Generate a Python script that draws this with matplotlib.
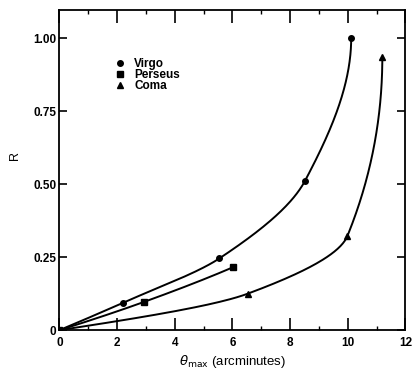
import matplotlib
matplotlib.use("Agg")
import matplotlib.pyplot as plt
from matplotlib.ticker import MultipleLocator
import numpy as np

plt.rcParams['font.family'] = ['Liberation Sans', 'DejaVu Sans']

# values
virgo_x = [0.0, 2.21, 5.55, 8.52, 10.12]
virgo_r = [0.0, 0.094, 0.246, 0.512, 1.0]
perseus_x = [0.0, 2.94, 6.03]
perseus_r = [0.0, 0.097, 0.216]
coma_x = [0.0, 6.53, 9.99, 11.2]
coma_r = [0.0, 0.125, 0.323, 0.936]

x_ticks = [0, 2, 4, 6, 8, 10, 12]
y_ticks = [0, 0.25, 0.5, 0.75, 1.0]
y_labels = ['0', '0.25', '0.50', '0.75', '1.00']


def pchip(x, y, xx):
    """Monotone piecewise cubic (Fritsch-Carlson, as scipy's PCHIP)."""
    x = np.asarray(x, float)
    y = np.asarray(y, float)
    h = np.diff(x)
    delta = np.diff(y) / h
    n = len(x)
    d = np.zeros(n)
    for k in range(1, n - 1):
        if delta[k - 1] * delta[k] > 0:
            w1 = 2 * h[k] + h[k - 1]
            w2 = h[k] + 2 * h[k - 1]
            d[k] = (w1 + w2) / (w1 / delta[k - 1] + w2 / delta[k])

    def end(h0, h1, m0, m1):
        e = ((2 * h0 + h1) * m0 - h0 * m1) / (h0 + h1)
        if np.sign(e) != np.sign(m0):
            e = 0.0
        elif np.sign(m0) != np.sign(m1) and abs(e) > 3 * abs(m0):
            e = 3 * m0
        return e

    d[0] = end(h[0], h[1], delta[0], delta[1])
    d[-1] = end(h[-1], h[-2], delta[-1], delta[-2])
    k = np.clip(np.searchsorted(x, xx) - 1, 0, n - 2)
    s = (xx - x[k]) / h[k]
    return (y[k] * (2 * s**3 - 3 * s**2 + 1) + d[k] * h[k] * (s**3 - 2 * s**2 + s)
            + y[k + 1] * (-2 * s**3 + 3 * s**2) + d[k + 1] * h[k] * (s**3 - s**2))


def smooth(xs, ys, n=300):
    # theta is single-valued in R, so interpolate theta(R)
    rr = np.linspace(ys[0], ys[-1], n)
    return pchip(ys, xs, rr), rr


fig = plt.figure(figsize=(4.12, 3.71), dpi=100)
ax = fig.add_axes([0.144, 0.11, 0.84, 0.863])

for xs, ys, m, ms, lab in [(virgo_x, virgo_r, 'o', 4.0, 'Virgo'),
                           (perseus_x, perseus_r, 's', 4.2, 'Perseus'),
                           (coma_x, coma_r, '^', 4.5, 'Coma')]:
    sx, sy = smooth(xs, ys)
    ax.plot(sx, sy, color='black', lw=1.4, solid_capstyle='round')
    ax.plot(xs, ys, m, color='black', ms=ms, label=lab)

ax.set_xlim(0, 12)
ax.set_ylim(0, 1.097)
ax.set_xticks(x_ticks)
ax.set_yticks(y_ticks)
ax.set_yticklabels(y_labels)
ax.xaxis.set_minor_locator(MultipleLocator(1))
ax.tick_params(axis='x', which='major', direction='in', length=9, width=1.2,
               top=True, labelsize=8.5, pad=5)
ax.tick_params(axis='x', which='minor', direction='in', length=3, width=1, top=True)
ax.tick_params(axis='y', which='major', direction='in', length=6, width=1.2,
               right=True, labelsize=8.5, pad=2)
for lab in ax.get_xticklabels() + ax.get_yticklabels():
    lab.set_fontweight('bold')
for s in ax.spines.values():
    s.set_linewidth(1.3)

ax.set_xlabel(r'$\theta_{\rm max}$ (arcminutes)', fontsize=9.5, labelpad=3)
ax.set_ylabel('R', fontsize=9)
ax.yaxis.set_label_coords(-0.11, 0.547)

leg = ax.legend(loc='upper left', bbox_to_anchor=(0.162, 0.85), frameon=False,
                fontsize=8.5, handlelength=0.7, handletextpad=0.9,
                labelspacing=-0.08, borderaxespad=0, borderpad=0)
for t in leg.get_texts():
    t.set_fontweight('bold')

fig.savefig('out.png', dpi=100)
